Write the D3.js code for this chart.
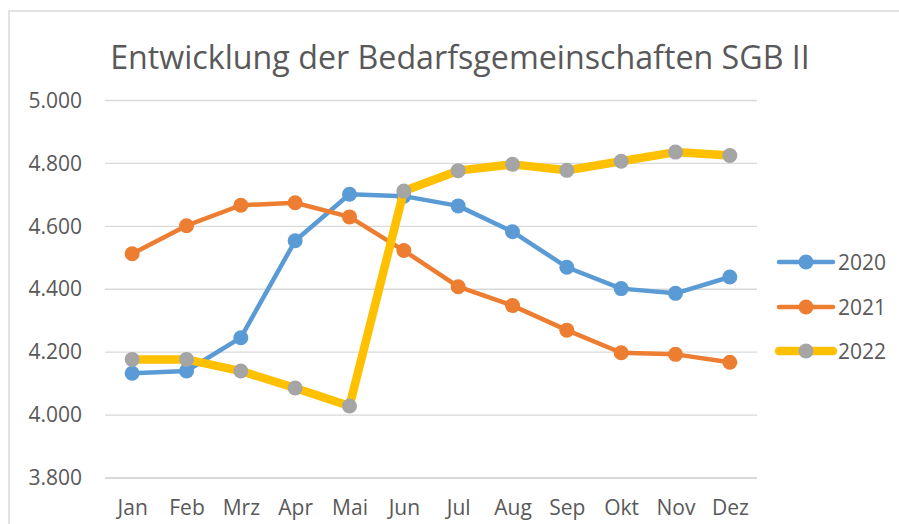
<!DOCTYPE html>
<html>
<head>
<meta charset="utf-8">
<script src="https://cdn.jsdelivr.net/npm/d3@7"></script>
<style>
  html, body { margin: 0; padding: 0; background: #fff; }
  svg { display: block; font-family: "Open Sans", "Noto Sans", sans-serif; }
</style>
</head>
<body>
<div id="chart"></div>
<script>
// chart data
const months = ["Jan", "Feb", "Mrz", "Apr", "Mai", "Jun", "Jul", "Aug", "Sep", "Okt", "Nov", "Dez"];
const values2020 = [4133, 4140, 4246, 4554, 4702, 4696, 4665, 4583, 4470, 4402, 4387, 4439];
const values2021 = [4513, 4602, 4667, 4675, 4630, 4523, 4408, 4348, 4270, 4198, 4193, 4168];
const values2022 = [4177, 4177, 4140, 4086, 4029, 4712, 4777, 4797, 4778, 4807, 4836, 4825];
const yTicks = [3800, 4000, 4200, 4400, 4600, 4800, 5000];
const title = "Entwicklung der Bedarfsgemeinschaften SGB II";

const series = [
  { name: "2020", values: values2020, line: "#5B9BD5", marker: "#5B9BD5", width: 4.5 },
  { name: "2021", values: values2021, line: "#ED7D31", marker: "#ED7D31", width: 4.5 },
  { name: "2022", values: values2022, line: "#FFC000", marker: "#A5A5A5", width: 8.5 }
];

const width = 899, height = 524;
const plot = { left: 105, right: 757, top: 100.5, bottom: 478 };
const textColor = "#595959";

const de = d3.formatLocale({ decimal: ",", thousands: ".", grouping: [3], currency: ["", " €"] });
const fmt = de.format(",.0f");

const svg = d3.select("#chart").append("svg")
  .attr("width", width)
  .attr("height", height);

// chart area border (only top/left visible in the reference)
svg.append("rect")
  .attr("x", 9).attr("y", 11)
  .attr("width", width + 10).attr("height", height + 10)
  .attr("fill", "none")
  .attr("stroke", "#D9D9D9")
  .attr("stroke-width", 1.5);

const x = d3.scalePoint().domain(months).range([plot.left, plot.right]).padding(0.5);
const y = d3.scaleLinear().domain([3800, 5000]).range([plot.bottom, plot.top]);

// title, fitted to the width seen in the reference
const titleText = svg.append("text")
  .attr("x", 460).attr("y", 69)
  .attr("text-anchor", "middle")
  .attr("fill", textColor)
  .attr("font-size", 30)
  .text(title);
const tw = titleText.node().getComputedTextLength();
titleText.attr("font-size", 30 * 700 / tw);

// gridlines
svg.append("g")
  .selectAll("line")
  .data(yTicks)
  .join("line")
  .attr("x1", plot.left).attr("x2", plot.right)
  .attr("y1", (d) => y(d)).attr("y2", (d) => y(d))
  .attr("stroke", "#D9D9D9")
  .attr("stroke-width", (d) => (d === 3800 ? 2 : 1.4));

// y axis labels
const yAxis = svg.append("g")
  .attr("transform", "translate(" + (plot.left - 23) + ",0)")
  .call(d3.axisLeft(y).tickValues(yTicks).tickFormat(fmt).tickSize(0).tickPadding(0));
yAxis.select(".domain").remove();
yAxis.selectAll("text")
  .attr("fill", textColor)
  .attr("font-size", 21)
  .attr("font-family", "\"Open Sans\", sans-serif");

// x axis labels
const xAxis = svg.append("g")
  .attr("transform", "translate(0," + plot.bottom + ")")
  .call(d3.axisBottom(x).tickSize(0).tickPadding(22));
xAxis.select(".domain").remove();
xAxis.selectAll("text")
  .attr("fill", textColor)
  .attr("font-size", 21)
  .attr("font-family", "\"Open Sans\", sans-serif");

const line = d3.line()
  .x((d, i) => x(months[i]))
  .y((d) => y(d));

const seriesG = svg.append("g")
  .selectAll("g")
  .data(series)
  .join("g");

seriesG.append("path")
  .attr("d", (s) => line(s.values))
  .attr("fill", "none")
  .attr("stroke", (s) => s.line)
  .attr("stroke-width", (s) => s.width)
  .attr("stroke-linejoin", "round")
  .attr("stroke-linecap", "round");

seriesG.selectAll("circle")
  .data((s) => s.values.map((v, i) => ({ v, i, s })))
  .join("circle")
  .attr("cx", (d) => x(months[d.i]))
  .attr("cy", (d) => y(d.v))
  .attr("r", 7.5)
  .attr("fill", (d) => d.s.marker);

// legend
const legendY = [262, 307, 351];
const legend = svg.append("g")
  .selectAll("g")
  .data(series)
  .join("g")
  .attr("transform", (s, i) => "translate(0," + legendY[i] + ")");

legend.append("line")
  .attr("x1", 779).attr("x2", 833)
  .attr("stroke", (s) => s.line)
  .attr("stroke-width", (s) => s.width)
  .attr("stroke-linecap", "round");

legend.append("circle")
  .attr("cx", 806)
  .attr("r", 7.5)
  .attr("fill", (s) => s.marker);

legend.append("text")
  .attr("x", 838)
  .attr("dy", "0.36em")
  .attr("fill", textColor)
  .attr("font-size", 21)
  .text((s) => s.name);
</script>
</body>
</html>
